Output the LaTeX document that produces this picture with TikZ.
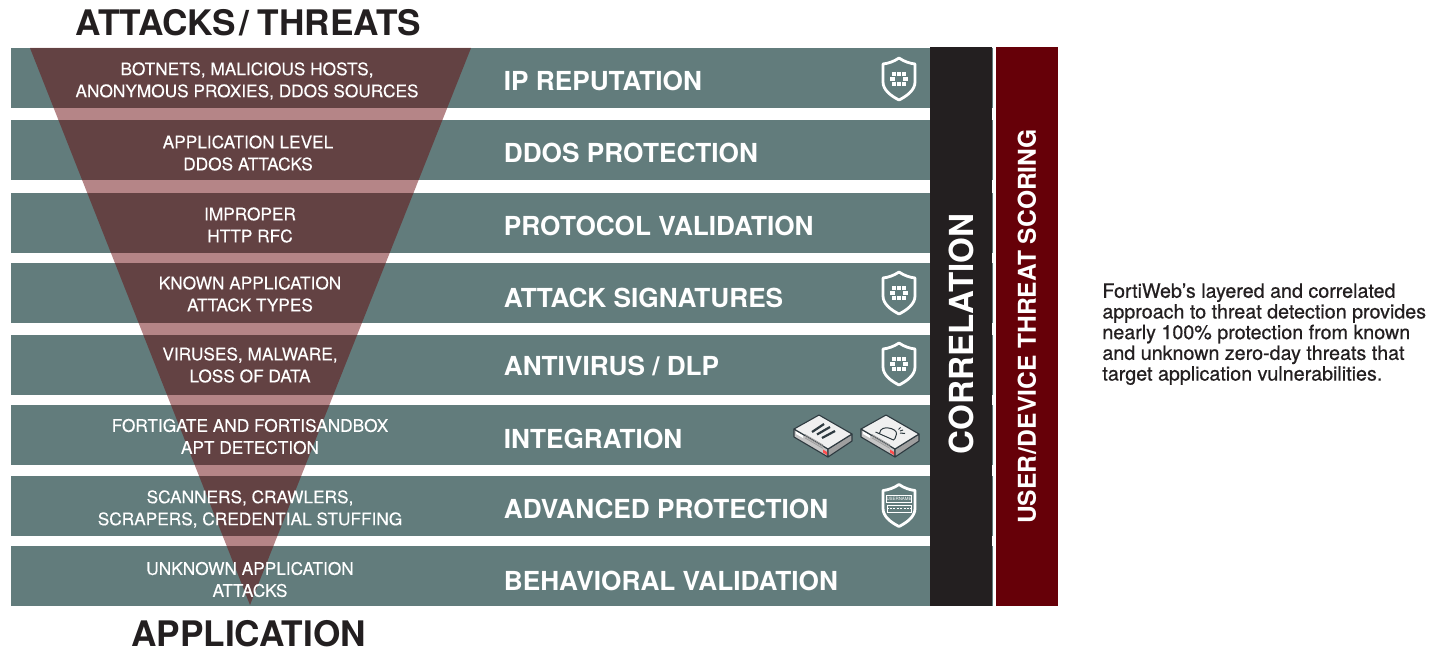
\documentclass[tikz,border=0pt]{standalone}
\usepackage{fontspec}
\setmainfont{TeX Gyre Heros}
\newfontfamily\mediumfont[RawFeature={embolden=0.6}]{TeX Gyre Heros}
\newfontfamily\bandfont[RawFeature={embolden=0.2}]{TeX Gyre Heros}
\definecolor{bandteal}{HTML}{627C7C}
\definecolor{funnelred}{HTML}{660508}
\definecolor{corrblack}{HTML}{231F20}
\definecolor{scorered}{HTML}{660008}
\definecolor{boxline}{HTML}{2E3A40}
\tikzset{
    band/.style={fill=bandteal, minimum width=491pt, minimum height=30pt, inner sep=0pt},
    threat/.style={text=white, align=center, font=\bandfont\fontsize{8.63}{11}\selectfont, inner sep=0pt},
    layer/.style={text=white, anchor=west, font=\bfseries\fontsize{13.1}{15}\selectfont, inner sep=0pt},
    heading/.style={text=corrblack, font=\bfseries\fontsize{17.6}{20}\selectfont, inner sep=0pt},
    sidebar/.style={minimum width=31pt, minimum height=279.5pt, inner sep=0pt},
    sidetext/.style={text=white, rotate=90, inner sep=0pt},
    shieldline/.style={draw=white, line width=1.4pt, line join=round},
    boxedge/.style={draw=boxline, line width=0.55pt, line join=round},
    pics/shield/.style={code={
        \path[shieldline] (0,-21) .. controls (5,-17.5) and (11,-15.5) .. (16,-15) -- (16,3)
            .. controls (16,11) and (8,17) .. (0,21)
            .. controls (-8,17) and (-16,11) .. (-16,3) -- (-16,-15)
            .. controls (-11,-15.5) and (-5,-17.5) .. (0,-21) -- cycle;
    }},
    % логотип внутри щита
    pics/fabric/.style={code={
        \foreach \xa/\xb in {-7/-3, -2.2/2.2, 3/7} {
            \fill[white] (\xa,-6.7) rectangle (\xb,-3.2);
            \fill[white] (\xa,3.2) rectangle (\xb,6.7);
        }
        \fill[white] (-8.7,-2.3) rectangle (-4,2.3);
        \fill[white] (4,-2.3) rectangle (8.7,2.3);
    }},
    pics/appliance/.style={code={
        \path[boxedge, fill=gray!45] (-29,-6) -- (5,14) -- (5,22) -- (-29,2) -- cycle;
        \path[boxedge, fill=gray!75] (5,14) -- (29,-1) -- (29,6) -- (5,22) -- cycle;
        \path[boxedge, fill=gray!12] (-29,-6) -- (-4,-20) -- (29,-1) -- (5,14) -- cycle;
        \foreach \d in {0,1.7,3.4}
            \draw[gray!75, line width=0.4pt] (-18,-0.5+\d) -- (0,10+\d);
        \fill[white] (-27,-3.5) -- (-20,0.5) -- (-20,3) -- (-27,-1) -- cycle;
        \fill[red!70!white] (0,14.5) -- (4,17) -- (4,20) -- (0,17.5) -- cycle;
    }},
}
\begin{document}
\begin{tikzpicture}[x=0.5pt, y=-0.5pt]
    \useasboundingbox (0,0) rectangle (1444,652);

    \foreach \n/\y in {1/78, 2/150, 3/223, 4/293, 5/365, 6/435, 7/506, 8/576}
        \node[band] (row\n) at (502,\y) {};

    \fill[funnelred, opacity=0.485] (30,48) -- (471,48) -- (250,605) -- cycle;

    \node[sidebar, fill=corrblack] (correlation) at (961,326.5) {};
    \node[sidebar, fill=scorered] (scoring) at (1027,326.5) {};
    \node[sidetext, font=\bfseries\fontsize{16.55}{20}\selectfont] (corrlabel) at (961,334) {CORRELATION};
    \node[sidetext, font=\bfseries\fontsize{12.3}{15}\selectfont] (scorelabel) at (1027,326.5) {USER\kern0.4pt/\kern0.4pt DEVICE THREAT SCORING};

    \node[heading] (attacks) at (248.5,23) {ATTACKS\kern2pt/\kern4.2pt THREATS};
    \node[heading] (application) at (248.5,634) {APPLICATION};

    \foreach \n/\x/\y/\txt in {
        1/247/81/{BOTNETS, MALICIOUS HOSTS,\\ANONYMOUS PROXIES, DDOS SOURCES},
        2/248/153/{APPLICATION LEVEL\\DDOS ATTACKS},
        3/250/225/{IMPROPER\\HTTP RFC},
        4/250/294/{KNOWN APPLICATION\\ATTACK TYPES},
        5/250/365/{VIRUSES, MALWARE,\\LOSS OF DATA},
        6/250/436.5/{FORTIGATE AND FORTISANDBOX\\APT DETECTION},
        7/250/509/{SCANNERS, CRAWLERS,\\SCRAPERS, CREDENTIAL STUFFING},
        8/250/579.5/{UNKNOWN APPLICATION\\ATTACKS}}
        \node[threat] (threat\n) at (\x,\y) {\txt};

    \foreach \n/\y/\txt in {
        1/81/{IP REPUTATION},
        2/153/{DDOS PROTECTION},
        3/226/{PROTOCOL VALIDATION},
        4/298/{ATTACK SIGNATURES},
        5/366/{ANTIVIRUS / DLP},
        6/439/{INTEGRATION},
        7/509/{ADVANCED PROTECTION},
        8/581/{BEHAVIORAL VALIDATION}}
        \node[layer] (layer\n) at (503.5,\y) {\txt};

    \foreach \y in {79,293,364}
        \path (899,\y) pic {shield} pic {fabric};

    \path (899,505.5) pic {shield};
    \node[draw=white, line width=0.5pt, minimum width=12pt, minimum height=3.5pt, inner sep=0pt,
        font=\fontsize{2.2}{2.2}\selectfont, text=white] (username) at (899,498.5) {USERNAME};
    \node[draw=white, line width=0.5pt, minimum width=12pt, minimum height=3.5pt, inner sep=0pt] (password) at (899,508.5) {};
    \draw[white, line width=0.8pt, dash pattern=on 1pt off 0.7pt] (password.west) -- (password.east);

    \path (823,435) pic {appliance};
    \path (890,435) pic {appliance};
    \draw[boxline, line width=1.1pt] (812,432) -- (824,424) (817,434.5) -- (830,427) (822,438) -- (835,431);
    \draw[boxline, line width=0.5pt] (879.5,433.5) .. controls (880,428) and (885,427.5) .. (888.5,428)
        .. controls (893,428.5) and (897,431) .. (896.5,434) -- (895,438.5)
        (875.5,432) -- (893.5,440) -- (895,438.5)
        (900,431) -- (903,430) (900,433) -- (905,433.5) (898.5,429.5) -- (900.5,427.5);

    \node[text=corrblack, anchor=north west, align=left, inner sep=0pt,
        font=\mediumfont\fontsize{9.85}{10.35}\selectfont] (summary) at (1102,283) {FortiWeb’s layered and correlated\\approach to threat detection provides\\nearly 100\% protection from known\\and unknown zero-day threats that\\target application vulnerabilities.};
\end{tikzpicture}
\end{document}
